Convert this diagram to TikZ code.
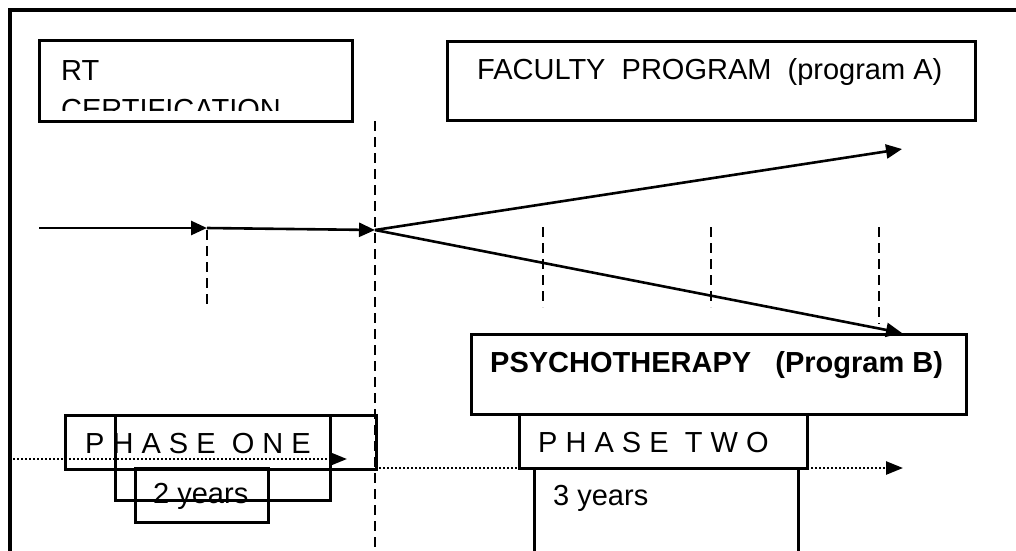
\documentclass[tikz,border=0pt]{standalone}
\usepackage{fontspec}
\setmainfont{Liberation Sans}
\usetikzlibrary{arrows.meta}
\begin{document}
\begin{tikzpicture}[x=1pt,y=-1pt,
  box/.style={line width=3pt},
  lbl/.style={anchor=base west,inner sep=0pt,font=\fontsize{29}{34}\selectfont},
  flow/.style={line width=2.6pt,-{Triangle[length=16pt,width=14pt]}},
  dots/.style={line width=2.6pt,dash pattern=on 2pt off 2pt,-{Triangle[length=17pt,width=13pt]}},
  tick/.style={line width=2.6pt,dash pattern=on 10pt off 6pt}]

  \clip (0,0) rectangle (1016,550);

%frame
  \draw[line width=3.5pt] (10,560) -- (10,10) -- (1025,10);

%time lines
  \coordinate (d1) at (9,459);
  \coordinate (d1e) at (347,459);
  \coordinate (d2) at (375,468);
  \coordinate (d2e) at (903,468);
  \draw[dots] (d1) -- (d1e);
  \draw[dots] (d2) -- (d2e);

%boxes
  \foreach \xa/\ya/\xb/\yb in {39/40/352/121, 447/41/975/120, 471/334/966/414,
        519/414/807/468, 534/468/798/570, 65/415/376/469, 115/415/330/500, 135/468/268/522} {
    \draw[box] (\xa,\ya) rectangle (\xb,\yb);
  }

%ticks
  \draw[tick] (375,121) -- (375,550);
  \foreach \x/\ya/\yb in {207/230/308, 543/227/307, 711/227/307, 879/227/324} {
    \draw[tick] (\x,\ya) -- (\x,\yb);
  }

%arrows
  \coordinate (in) at (39,228);
  \coordinate (t1) at (207,228);
  \coordinate (fork) at (375,230);
  \coordinate (endA) at (902,149);
  \coordinate (endB) at (902,333);
  \draw[flow] (in) -- (t1);
  \draw[flow] (t1) -- (fork);
  \draw[flow] (fork) -- (endA);
  \draw[flow] (fork) -- (endB);

%labels
  \node[lbl] (rt) at (61,80) {RT};
  \begin{scope}
    \clip (39,40) rectangle (352,110);
    \node[lbl] (cert) at (61,119) {CERTIFICATION};
  \end{scope}
  \node[lbl] (fac) at (477,79) {FACULTY\ \ PROGRAM\ \ (program A)};
  \node[lbl,font=\fontsize{29}{34}\selectfont\bfseries] (psy) at (490,372) {PSYCHOTHERAPY\ \ \ (Program B)};
  \node[lbl] (ph2) at (538,452) {P H A S E\ \ T W O};
  \node[lbl] (yr3) at (553,505) {3 years};
  \node[lbl] (ph1) at (85,453) {P H A S E\ \ O N E};
  \node[lbl] (yr2) at (153,503) {2 years};

\end{tikzpicture}
\end{document}
